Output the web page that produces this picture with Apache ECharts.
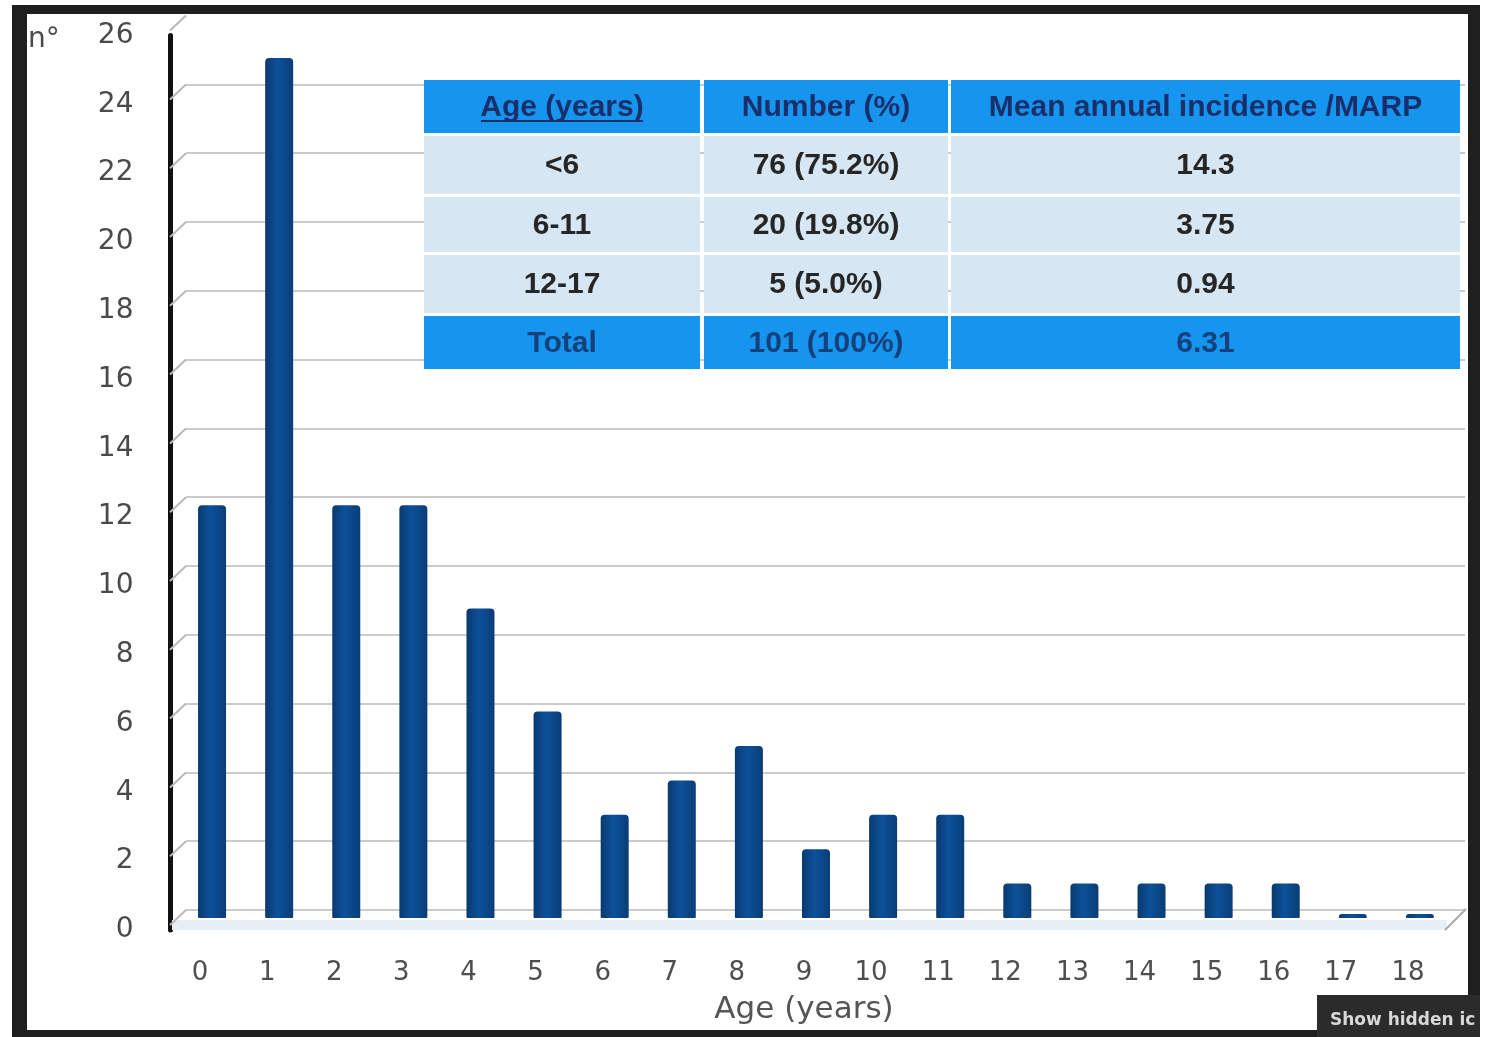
<!DOCTYPE html>
<html>
<head>
<meta charset="utf-8">
<title>Cases by age</title>
<script src="https://cdn.jsdelivr.net/npm/echarts@6/dist/echarts.min.js"></script>
<style>
  html, body { margin: 0; padding: 0; background: #ffffff; }
  #chart { width: 1487px; height: 1037px; }
</style>
</head>
<body>
<div id="chart"></div>
<script>
// Number of cases per year of age
const ageCategories = ['0','1','2','3','4','5','6','7','8','9','10','11','12','13','14','15','16','17','18'];
const caseCounts = [12, 25, 12, 12, 9, 6, 3, 4, 5, 2, 3, 3, 1, 1, 1, 1, 1, 0, 0];
const yTicks = [0, 2, 4, 6, 8, 10, 12, 14, 16, 18, 20, 22, 24, 26];

// Summary table by age group
const tableHeader = ['Age (years)', 'Number (%)', 'Mean annual incidence /MARP'];
const tableRows = [
  ['<6', '76 (75.2%)', '14.3'],
  ['6-11', '20 (19.8%)', '3.75'],
  ['12-17', '5 (5.0%)', '0.94']
];
const tableTotal = ['Total', '101 (100%)', '6.31'];

const chart = echarts.init(document.getElementById('chart'));

// table geometry
const colEdges = [[424, 700], [704, 948], [951, 1460]];
const rowEdges = [[80, 133], [136, 194], [197, 252], [255, 313], [316, 369]];
const tableFont = '"Liberation Sans", Arial, sans-serif';

function buildTable() {
  const els = [];
  const allRows = [tableHeader].concat(tableRows).concat([tableTotal]);
  allRows.forEach((row, r) => {
    const strong = (r === 0 || r === allRows.length - 1);
    const [y0, y1] = rowEdges[r];
    row.forEach((txt, c) => {
      const [x0, x1] = colEdges[c];
      els.push({
        type: 'rect', z: 100,
        shape: { x: x0, y: y0, width: x1 - x0, height: y1 - y0 },
        style: { fill: strong ? '#1595ee' : '#d6e6f3' }
      });
      els.push({
        type: 'text', z: 101,
        x: (x0 + x1) / 2, y: (y0 + y1) / 2 + 1,
        style: {
          text: txt, align: 'center', verticalAlign: 'middle',
          font: 'bold 30px ' + tableFont,
          fill: r === 0 ? '#1a2f6a' : (strong ? '#15407c' : '#262626')
        }
      });
    });
  });
  // underline of the first header cell
  els.push({
    type: 'line', z: 102,
    shape: { x1: 481, y1: 121, x2: 643, y2: 121 },
    style: { stroke: '#1a2f6a', lineWidth: 2 }
  });
  return els;
}

const frame = [
  // floor front edge and right corner
  { type: 'rect', z: 1, shape: { x: 172, y: 920, width: 1275, height: 10 }, style: { fill: '#e7eef6' } },
  { type: 'line', z: 2, shape: { x1: 1445, y1: 930, x2: 1466, y2: 909 }, style: { stroke: '#a9a9a9', lineWidth: 2 } },
  { type: 'text', z: 5, x: 28, y: 40,
    style: { text: 'n°', font: '28px "DejaVu Sans", sans-serif', fill: '#4a4a4a', verticalAlign: 'middle' } },
  // dark window border
  { type: 'rect', z: 200, shape: { x: 12, y: 5, width: 1468, height: 9 }, style: { fill: '#1f1f1f' } },
  { type: 'rect', z: 200, shape: { x: 12, y: 5, width: 15, height: 1032 }, style: { fill: '#1f1f1f' } },
  { type: 'rect', z: 200, shape: { x: 1468, y: 5, width: 12, height: 1032 }, style: { fill: '#1f1f1f' } },
  { type: 'rect', z: 200, shape: { x: 12, y: 1030, width: 1468, height: 7 }, style: { fill: '#1f1f1f' } },
  // tray tooltip
  { type: 'rect', z: 210, shape: { x: 1317, y: 995, width: 163, height: 42 }, style: { fill: '#2b2b2b' } },
  { type: 'text', z: 211, x: 1330, y: 1021,
    style: { text: 'Show hidden ic', font: 'bold 17px "DejaVu Sans", sans-serif', fill: '#d8d8d8', verticalAlign: 'middle' } }
];

const option = {
  backgroundColor: '#ffffff',
  animation: false,
  grid: [
    // front plane: bars
    { left: 178.5, top: 23.6, width: 1275, height: 894.4 },
    // back wall: gridlines
    { left: 186, top: 15.6, width: 1279, height: 894.4 },
    // axis labels
    { left: 166.5, top: 35.6, width: 1275, height: 894.4 }
  ],
  xAxis: [
    { gridIndex: 0, type: 'category', data: ageCategories, show: false },
    { gridIndex: 1, type: 'value', min: 0, max: 1, show: false },
    {
      gridIndex: 2, type: 'category', data: ageCategories,
      axisLine: { show: false }, axisTick: { show: false },
      axisLabel: { margin: 30, fontSize: 26, color: '#4e4e4e', fontFamily: '"DejaVu Sans", sans-serif' },
      name: 'Age (years)', nameLocation: 'middle', nameGap: 64,
      nameTextStyle: { fontSize: 31, color: '#555555', fontFamily: '"DejaVu Sans", sans-serif' }
    }
  ],
  yAxis: [
    { gridIndex: 0, type: 'value', min: 0, max: 26, interval: 2, show: false },
    {
      gridIndex: 1, type: 'value', min: 0, max: 26, interval: 2,
      axisLine: { show: false }, axisTick: { show: false }, axisLabel: { show: false },
      splitLine: { show: true, showMaxLine: false, lineStyle: { color: '#cbcbcb', width: 2 } }
    },
    {
      gridIndex: 2, type: 'value', min: 0, max: 26, interval: 2, offset: -4,
      axisLine: { show: true, lineStyle: { color: '#111111', width: 5 } },
      axisTick: { show: false },
      splitLine: { show: false },
      axisLabel: { margin: 37, fontSize: 28, color: '#4a4a4a', fontFamily: '"DejaVu Sans", sans-serif' }
    }
  ],
  series: [
    {
      // depth connectors from the front axis to the back wall
      type: 'custom', xAxisIndex: 1, yAxisIndex: 1, z: 1, silent: true,
      data: yTicks,
      renderItem: function (params, api) {
        const p = api.coord([0, api.value(0)]);
        return {
          type: 'line',
          shape: { x1: p[0] - 16, y1: p[1] + 15, x2: p[0], y2: p[1] },
          style: { stroke: '#b9b9b9', lineWidth: 2 }
        };
      },
      encode: { y: 0 }
    },
    {
      type: 'bar', xAxisIndex: 0, yAxisIndex: 0, z: 3,
      data: caseCounts,
      barWidth: 28,
      barMinHeight: 4,
      itemStyle: {
        borderRadius: [4, 4, 1, 1],
        color: new echarts.graphic.LinearGradient(0, 0, 1, 0, [
          { offset: 0, color: '#093a70' },
          { offset: 0.45, color: '#0c519a' },
          { offset: 1, color: '#0a3d76' }
        ])
      }
    }
  ],
  graphic: frame.concat(buildTable())
};

chart.setOption(option);
</script>
</body>
</html>
